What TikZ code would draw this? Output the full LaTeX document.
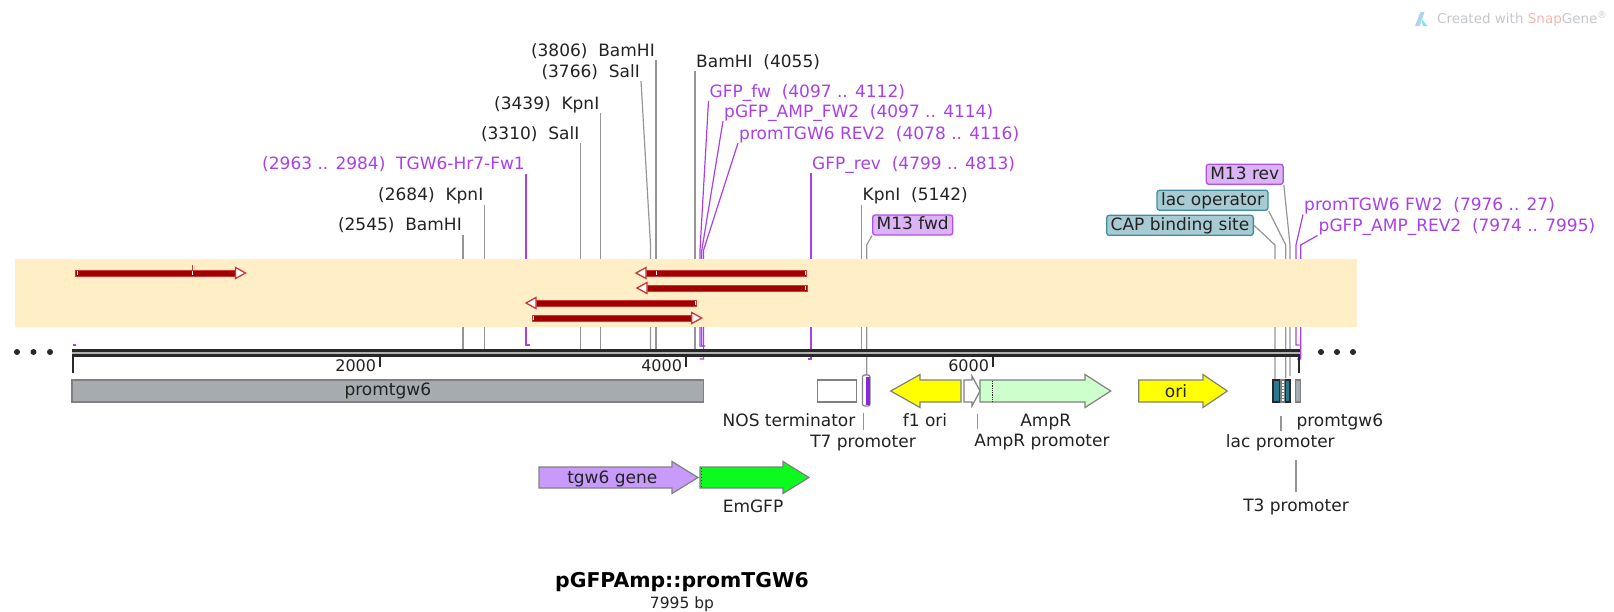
\documentclass[tikz,border=0pt]{standalone}
\usepackage{fontspec}
\setmainfont{DejaVu Sans}
\usetikzlibrary{positioning}

\definecolor{bandfill}{RGB}{255,238,198}
\definecolor{readred}{RGB}{160,0,0}
\definecolor{readedge}{RGB}{205,55,55}
\definecolor{labink}{RGB}{34,34,34}
\definecolor{siteink}{RGB}{150,150,150}
\definecolor{primerink}{RGB}{168,64,235}
\definecolor{featedge}{RGB}{128,128,128}
\definecolor{promgray}{RGB}{166,171,176}
\definecolor{orifill}{RGB}{255,255,0}
\definecolor{ampfill}{RGB}{204,255,204}
\definecolor{genefill}{RGB}{200,155,250}
\definecolor{gfpfill}{RGB}{12,250,30}
\definecolor{m13fill}{RGB}{218,180,245}
\definecolor{m13edge}{RGB}{175,80,232}
\definecolor{m13dark}{RGB}{140,40,220}
\definecolor{lacfill}{RGB}{168,203,211}
\definecolor{lacedge}{RGB}{62,142,158}
\definecolor{lacdark}{RGB}{40,120,145}
\definecolor{bbdark}{RGB}{40,40,40}
\definecolor{wmgray}{RGB}{195,199,203}
\definecolor{snappink}{RGB}{242,182,175}
\definecolor{logoblue}{RGB}{170,215,240}

\newcommand{\labfont}{\fontsize{17}{20}\selectfont}
\newcommand{\rulefont}{\fontsize{16}{19}\selectfont}
\newcommand{\titlefont}{\fontsize{20.4}{24}\selectfont\bfseries}
\newcommand{\bpfont}{\fontsize{15.5}{18}\selectfont}
\newcommand{\wmfont}{\fontsize{13.5}{16}\selectfont}

\tikzset{
  site/.style={font=\labfont, text=labink, inner xsep=1pt, inner ysep=0pt, text height=13pt, text depth=3.5pt},
  primer/.style={site, text=primerink},
  siteline/.style={draw=siteink, line width=1.2pt},
  primerline/.style={draw=primerink, line width=1.2pt},
  tagbox/.style={site, rounded corners=2.5pt, line width=1.3pt, inner xsep=4pt, inner ysep=1.75pt},
  feat/.style={draw=featedge, line width=1.2pt},
  readbar/.style={fill=readred, draw=readedge, line width=0.8pt},
  readhead/.style={fill=white, draw=readedge, line width=1.3pt, line join=miter},
  tick/.style={draw=bbdark, line width=2pt},
}

\begin{document}
\begin{tikzpicture}[x=1pt,y=-1pt]
\useasboundingbox (0,0) rectangle (1614,611);

% watermark
\fill[logoblue] (1415,26) -- (1420.5,12) -- (1424.5,12) -- (1419.5,26) -- cycle;
\fill[logoblue!70!cyan] (1421.5,19) -- (1427.5,26) -- (1423,26) -- cycle;
\node[font=\wmfont, text=wmgray, anchor=west, inner sep=0pt] (wm) at (1437,19) {Created with \textcolor{snappink}{Snap}Gene\textsuperscript{\textregistered}};

% cut sites, labels on the left
\foreach \nm/\x/\y/\txt in {
    bam2545/463/234.5/{(2545)~~BamHI},
    kpn2684/484.5/204.5/{(2684)~~KpnI},
    sal3310/580.5/143/{(3310)~~SalI},
    kpn3439/600.5/113/{(3439)~~KpnI},
    bam3806/656/60/{(3806)~~BamHI}}{
  \node[site, anchor=south east] (\nm) at (\x,\y) {\txt};
  \coordinate (\nm-bb) at (\x,349);
  \draw[siteline] (\nm.south east) -- (\nm-bb);
}
\node[site, anchor=south east] (sal3766) at (641,81) {(3766)~~SalI};
\coordinate (sal3766-bend) at (650.5,245);
\coordinate (sal3766-bb) at (650.5,349);
\draw[siteline] (sal3766.south east) -- (sal3766-bend) -- (sal3766-bb);

% cut sites, labels on the right
\foreach \nm/\x/\y/\txt in {
    bam4055/695/71/{BamHI~~(4055)},
    kpn5142/861.5/204.5/{KpnI~~(5142)}}{
  \node[site, anchor=south west] (\nm) at (\x,\y) {\txt};
  \coordinate (\nm-bb) at (\x,349);
  \draw[siteline] (\nm.south west) -- (\nm-bb);
}

% primers
\node[primer, anchor=south east] (hrfw) at (526,173.5) {(2963 .. 2984)~~TGW6-Hr7-Fw1};
\coordinate (hrfw-end) at (526,345);
\draw[primerline] (hrfw.south east) -- (hrfw-end) -- ++(4,0);

\node[primer, anchor=south west] (gfpfw) at (708.5,101) {GFP\_fw~~(4097 .. 4112)};
\coordinate (gfpfw-bend) at (700,250);
\coordinate (gfpfw-end) at (700,346);
\draw[primerline] (gfpfw.south west) -- (gfpfw-bend) -- (gfpfw-end) -- ++(3.5,0);

\node[primer, anchor=south west] (ampfw) at (723,121) {pGFP\_AMP\_FW2~~(4097 .. 4114)};
\coordinate (ampfw-bend) at (701.8,250);
\coordinate (ampfw-end) at (701.8,346);
\draw[primerline] (ampfw.south west) -- (ampfw-bend) -- (ampfw-end) -- ++(3.5,0);

\node[primer, anchor=south west] (promrev) at (738,143) {promTGW6 REV2~~(4078 .. 4116)};
\coordinate (promrev-bend) at (703.6,250);
\coordinate (promrev-end) at (703.6,359);
\draw[primerline] (promrev.south west) -- (promrev-bend) -- (promrev-end) -- ++(-4,0);

\node[primer, anchor=south west] (gfprev) at (811,173) {GFP\_rev~~(4799 .. 4813)};
\coordinate (gfprev-end) at (811,359);
\draw[primerline] (gfprev.south west) -- (gfprev-end) -- ++(-3.5,0);

\node[primer, anchor=south west] (promfw) at (1303,214.5) {promTGW6 FW2~~(7976 .. 27)};
\coordinate (promfw-bend) at (1296,245);
\coordinate (promfw-end) at (1296,345);
\draw[primerline] (promfw.south west) -- (promfw-bend) -- (promfw-end) -- ++(3.5,0);
\draw[primerline] (72.5,345) -- (75.5,345);

\node[primer, anchor=south west] (amprev) at (1317.5,235.5) {pGFP\_AMP\_REV2~~(7974 .. 7995)};
\coordinate (amprev-bend) at (1300.7,245);
\coordinate (amprev-end) at (1300.7,359);
\draw[primerline] (amprev.south west) -- (amprev-bend) -- (amprev-end) -- ++(-3.5,0);

% boxed features
\node[tagbox, fill=m13fill, draw=m13edge, anchor=west] (m13fwd) at (872,225) {M13 fwd};
\coordinate (m13fwd-bend) at (866.7,245);
\coordinate (m13fwd-end) at (866.7,375);
\draw[siteline] (m13fwd.south west) -- (m13fwd-bend) -- (m13fwd-end);

\node[tagbox, fill=m13fill, draw=m13edge, anchor=east] (m13rev) at (1283.8,174.3) {M13 rev};
\coordinate (m13rev-bend) at (1290,245);
\coordinate (m13rev-end) at (1290,376);
\draw[siteline] (m13rev.south east) -- (m13rev-bend) -- (m13rev-end);

\node[tagbox, fill=lacfill, draw=lacedge, anchor=east] (lacop) at (1268.7,200.3) {lac operator};
\coordinate (lacop-bend) at (1285.7,245);
\coordinate (lacop-end) at (1285.7,378);
\draw[siteline] (lacop.south east) -- (lacop-bend) -- (lacop-end);

\node[tagbox, fill=lacfill, draw=lacedge, anchor=east] (capsite) at (1254,225.3) {CAP binding site};
\coordinate (capsite-bend) at (1275,245);
\coordinate (capsite-end) at (1275,380);
\draw[siteline] (capsite.east) -- (capsite-bend) -- (capsite-end);

% enzyme band with reads
\fill[bandfill] (15,259) rectangle (1357,327);
\foreach \y/\a/\b in {273/75.8/235.5, 318/532/691.7}{
  \draw[readbar] (\a,\y-3) rectangle (\b,\y+3);
  \draw[readhead] (\b,\y-5.5) -- (\b+10,\y) -- (\b,\y+5.5) -- cycle;
  \draw[white, line width=1pt] (\a+1.5,\y-2) -- (\a+1.5,\y+2);
}
\foreach \y/\a/\b in {273/646/806.7, 288/647/807, 303/536/696.7}{
  \draw[readbar] (\a,\y-3) rectangle (\b,\y+3);
  \draw[readhead] (\a,\y-5.5) -- (\a-10,\y) -- (\a,\y+5.5) -- cycle;
  \draw[white, line width=1pt] (\b-1.5,\y-2) -- (\b-1.5,\y+2);
}
\draw[white, line width=1pt] (192,271) -- (192,275);
\draw[readedge, line width=1pt] (192,265) -- (192,270);
\draw[white, line width=1pt] (656.7,271) -- (656.7,275);

% backbone and ruler
\fill[bbdark] (72,349) rectangle (1300,357);
\draw[gray!60, line width=1.6pt] (72,353) -- (1300,353);
\draw[tick] (73,357) -- (73,373);
\draw[tick] (1299,357) -- (1299,373);
\foreach \x/\t in {379.8/2000, 685.7/4000, 992.7/6000}{
  \draw[tick] (\x,357) -- (\x,367);
  \node[font=\rulefont, text=labink, inner sep=0pt, anchor=east] (r\t) at (\x-3.5,366) {\t};
}
\foreach \x in {17,33.5,50}
  \fill[bbdark] (\x,352) circle (3);
\foreach \x in {1321,1337,1353}
  \fill[bbdark] (\x,352) circle (3);

% features
\node[feat, fill=promgray, minimum width=631.6pt, minimum height=22pt, inner sep=0pt, font=\labfont, text=labink] (promL) at (387.8,391) {promtgw6};
\node[feat, fill=white, minimum width=39.4pt, minimum height=22pt, inner sep=0pt] (nos) at (837,391) {};
\draw[feat, fill=white, rounded corners=2pt] (862.5,375) rectangle (870,406);
\fill[m13dark] (866,376.5) rectangle (869.5,404.5);
\draw[feat, fill=orifill] (961,380) -- (920,380) -- (920,374.5) -- (890.7,391) -- (920,407.5) -- (920,402) -- (961,402) -- cycle;
\draw[feat, fill=white] (964,380) -- (972,380) -- (972,376) -- (980,391) -- (972,406) -- (972,402) -- (964,402) -- cycle;
\draw[feat, fill=ampfill] (980,380) -- (1085,380) -- (1085,374.5) -- (1110.7,391) -- (1085,407.5) -- (1085,402) -- (980,402) -- cycle;
\draw[bbdark, densely dotted, line width=0.8pt] (992.7,381) -- (992.7,401);
\draw[feat, fill=orifill] (1138.8,380) -- (1203,380) -- (1203,374.5) -- (1227.3,391) -- (1203,407.5) -- (1203,402) -- (1138.8,402) -- cycle;
\node[site] (orilab) at (1176,392.5) {ori};
\draw[feat, draw=bbdark, fill=lacdark] (1273,380) rectangle (1280,402);
\draw[feat, fill=white] (1281,380) rectangle (1285,402);
\foreach \yy in {383,386,...,399}
  \draw[gray, line width=0.6pt] (1281.5,\yy) -- (1284.5,\yy);
\draw[feat, draw=bbdark, fill=lacdark] (1285.5,380) rectangle (1290,402);
\draw[feat, fill=promgray] (1295.3,380) rectangle (1300.7,402);

% feature labels
\node[site] (noslab) at (789,421.5) {NOS terminator};
\node[site] (t7lab) at (863,442.5) {T7 promoter};
\draw[siteline] (t7lab.north) ++(0.6,-4) -- ++(0,-17);
\node[site] (f1lab) at (925,421.5) {f1 ori};
\node[site] (amplab) at (1045.7,421.5) {AmpR};
\node[site] (ampprolab) at (1042,441.5) {AmpR promoter};
\draw[siteline] (ampprolab.north west) ++(4.4,-4) -- ++(0,-15);
\node[site] (promRlab) at (1339.8,421.5) {promtgw6};
\node[site] (lacprolab) at (1280.3,443) {lac promoter};
\draw[siteline] (lacprolab.north) ++(0.7,-4) -- ++(0,-15);
\node[site] (t3lab) at (1296,506.5) {T3 promoter};
\draw[siteline] (t3lab.north) ++(0,-6) -- ++(0,-32);

% insert genes
\draw[feat, fill=genefill] (539,467) -- (672,467) -- (672,461.5) -- (698,477.5) -- (672,493.5) -- (672,488) -- (539,488) -- cycle;
\node[site] (tgw6lab) at (612.3,478.8) {tgw6 gene};
\draw[feat, fill=gfpfill] (700,467) -- (783,467) -- (783,461.5) -- (809,477.5) -- (783,493.5) -- (783,488) -- (700,488) -- cycle;
\draw[bbdark, dotted, line width=1pt] (701,468) -- (701,487);
\node[site] (emgfplab) at (753,507.5) {EmGFP};

% title
\node[font=\titlefont, text=black, inner sep=0pt, text height=15pt, text depth=4pt] (title) at (682,582) {pGFPAmp::promTGW6};
\node[font=\bpfont, text=labink, inner sep=0pt, text height=11.5pt, text depth=3.3pt, below=4.6pt of title] (bplen) {7995 bp};
\end{tikzpicture}
\end{document}
